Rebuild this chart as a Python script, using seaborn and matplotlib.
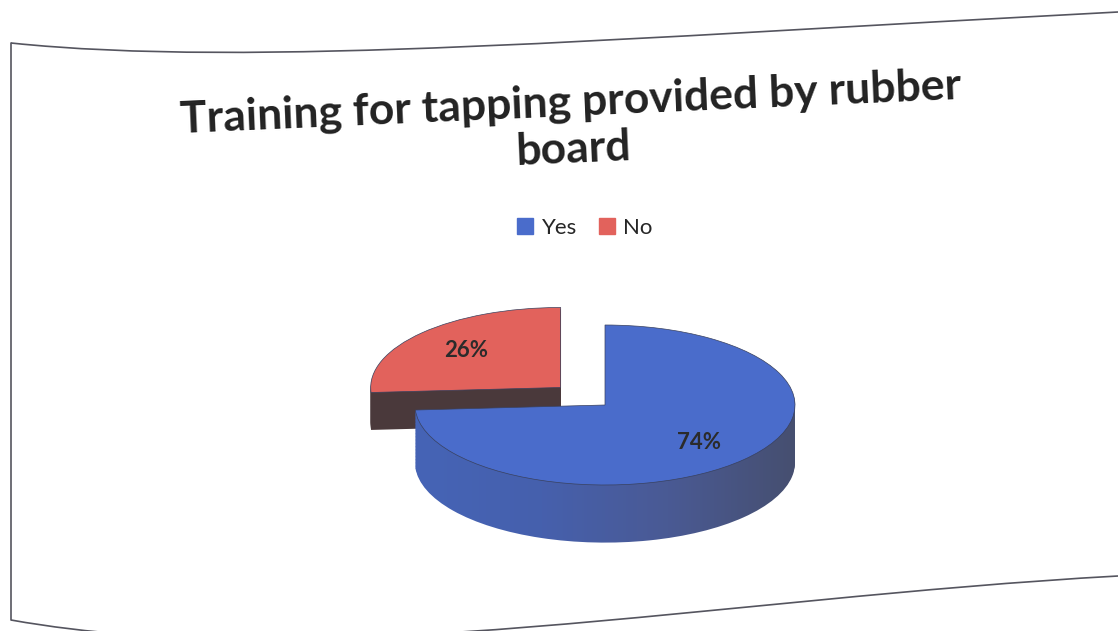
import numpy as np
import matplotlib
matplotlib.use("Agg")
import matplotlib.pyplot as plt
import seaborn as sns
from matplotlib.patches import Patch, PathPatch
from matplotlib.path import Path
from matplotlib.colors import LinearSegmentedColormap

# Survey answers
labels = ["Yes", "No"]
shares = [74, 26]
explode = [0.0, 0.32]
title = "Training for tapping provided by rubber\nboard"

top_colors = ["#4a6ccb", "#e2625c"]
side_colors = ["#4362b4", "#4a393b"]
rim_shade = LinearSegmentedColormap.from_list(
    "rim", ["#4564b6", "#4660ad", "#4a5a94", "#464f70"])

sns.set_theme(style="white")
plt.rcParams["font.family"] = ["Lato", "DejaVu Sans"]

W, H = 1118, 631
fig = plt.figure(figsize=(W / 100, H / 100), dpi=100)
fig.patch.set_facecolor("white")


def px_box(left, top, width, height):
    return [left / W, 1 - (top + height) / H, width / W, height / H]


# Page outline around the chart
def outline(points):
    verts = [(x / W, 1 - y / H) for x, y in points]
    codes = [Path.MOVETO, Path.CURVE4, Path.CURVE4, Path.CURVE4]
    return PathPatch(Path(verts, codes), transform=fig.transFigure,
                     fill=False, edgecolor="#55555f", linewidth=1.2)

fig.patches.append(outline([(11, 43), (250, 68), (620, 38), (1118, 12)]))
fig.patches.append(outline([(11, 620), (320, 675), (720, 598), (1118, 576)]))
fig.add_artist(plt.Line2D([11 / W, 11 / W], [1 - 43 / H, 1 - 620 / H],
                          transform=fig.transFigure, color="#55555f", lw=1.2))

# Pie drawn as a stack of layers to give it depth
ax = fig.add_axes(px_box(301, 277, 608, 304))
xlim, ylim = (-1.6, 1.6), (-2.2, 1.6)
ramp = np.linspace(0, 1, 256).reshape(1, -1)

depth = 0.72          # rim depth of the large slice
small_depth = 0.48    # the pulled-out slice sits further back and looks thinner
steps = 40
for k in range(steps + 1):
    d = depth * (1 - k / steps)
    is_top = k == steps
    res = ax.pie(
        shares,
        colors=top_colors if is_top else side_colors,
        startangle=90,
        counterclock=False,
        explode=explode,
        center=(0, -d),
        wedgeprops=dict(linewidth=0.5 if is_top else 0.0,
                        edgecolor="#39415e" if is_top else "none",
                        antialiased=True),
        autopct=(lambda p: f"{p:.0f}%") if is_top else None,
        pctdistance=0.68,
        textprops=dict(fontsize=16, fontweight="bold", color="#2b2b2b"),
    )
    wedges = res[0]
    wedges[1].set_zorder(2 if is_top else 1)
    wedges[0].set_zorder(4 if is_top else 3)
    if is_top:
        for t in res[2]:
            t.set_zorder(6)
    else:
        if d > small_depth:
            wedges[1].set_visible(False)
        # shaded rim of the large slice, darker towards the right
        img = ax.imshow(ramp, cmap=rim_shade, extent=(-1.0, 1.0, -2.0, 1.0),
                        aspect="auto", zorder=3, interpolation="bilinear")
        img.set_clip_path(wedges[0])
        wedges[0].set_visible(False)

ax.set_aspect("auto")
ax.set_xlim(*xlim)
ax.set_ylim(*ylim)
ax.axis("off")

# Title
fig.text(572 / W, 1 - 126 / H, title, ha="center", va="center",
         fontsize=32, fontweight="bold", color="#222222",
         rotation=2.5, rotation_mode="anchor", linespacing=1.2)

# Legend
handles = [Patch(facecolor=c, edgecolor=c) for c in top_colors]
fig.legend(handles, labels, loc="center", bbox_to_anchor=(585 / W, 1 - 228 / H),
           ncol=2, frameon=False, fontsize=16, handlelength=0.7,
           handleheight=0.7, handletextpad=0.4, columnspacing=1.0)

fig.savefig("out.png", dpi=100, facecolor="white")
